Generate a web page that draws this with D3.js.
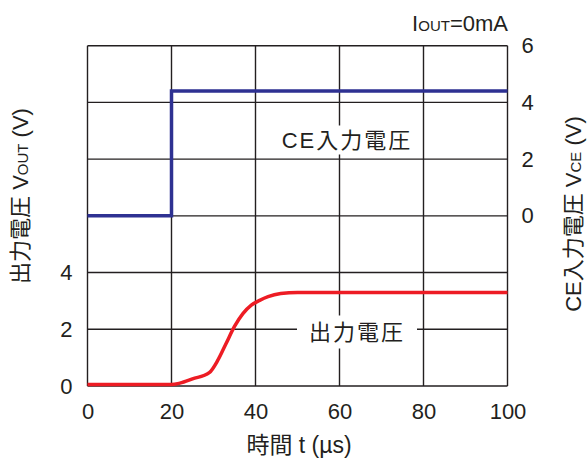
<!DOCTYPE html>
<html>
<head>
<meta charset="utf-8">
<script src="https://cdn.jsdelivr.net/npm/d3@7"></script>
<style>
  body { margin: 0; background: #fff; }
  text { font-family: "Liberation Sans", Arial, "Noto Sans CJK JP", sans-serif; fill: #231f20; }
</style>
</head>
<body>
<svg width="588" height="459"></svg>
<script>
// time axis (µs)
var xTicks = [0, 20, 40, 60, 80, 100];
var leftTicks = [0, 2, 4];
var rightTicks = [0, 2, 4, 6];

// CE input voltage (V), step at 20 µs
var ceTime = [0, 20, 20, 100];
var ceVolt = [0, 0, 4.4, 4.4];

// output voltage (V)
var outTime = [0, 20, 22, 25, 29, 31, 33, 35, 37, 39, 41, 43, 46, 50, 100];
var outVolt = [0.05, 0.05, 0.1, 0.25, 0.47, 0.9, 1.5, 2.1, 2.55, 2.85, 3.02, 3.15, 3.26, 3.3, 3.3];

var svg = d3.select('svg');
var plotLeft = 87.5, plotRight = 507.5, plotTop = 45.7, plotBottom = 386;

var x = d3.scaleLinear().domain([0, 100]).range([plotLeft, plotRight]);
var yLeft = d3.scaleLinear().domain([0, 12]).range([plotBottom, plotTop]);
var yRight = d3.scaleLinear().domain([-6, 6]).range([plotBottom, plotTop]);

var ink = '#231f20';

// grid
var grid = svg.append('g').attr('class', 'grid');
grid.selectAll('.vline')
    .data(xTicks)
    .enter()
    .append('line')
    .attr('x1', function(d) { return x(d); })
    .attr('x2', function(d) { return x(d); })
    .attr('y1', plotTop)
    .attr('y2', plotBottom)
    .attr('stroke', ink)
    .attr('stroke-width', 1.4);
grid.selectAll('.hline')
    .data(d3.range(-6, 7, 2))
    .enter()
    .append('line')
    .attr('x1', plotLeft)
    .attr('x2', plotRight)
    .attr('y1', function(d) { return yRight(d); })
    .attr('y2', function(d) { return yRight(d); })
    .attr('stroke', ink)
    .attr('stroke-width', 1.4);

// axes labels via d3 axes (no lines)
var fs = 22;
var xAxis = svg.append('g')
    .attr('transform', 'translate(0,' + plotBottom + ')')
    .call(d3.axisBottom(x).tickValues(xTicks).tickSize(0).tickPadding(17));
var lAxis = svg.append('g')
    .attr('transform', 'translate(' + plotLeft + ',0)')
    .call(d3.axisLeft(yLeft).tickValues(leftTicks).tickSize(0).tickPadding(15));
var rAxis = svg.append('g')
    .attr('transform', 'translate(' + plotRight + ',0)')
    .call(d3.axisRight(yRight).tickValues(rightTicks).tickSize(0).tickPadding(14));
[xAxis, lAxis, rAxis].forEach(function(a) {
    a.select('.domain').remove();
    a.selectAll('text')
        .attr('font-family', '"Liberation Sans", Arial, sans-serif')
        .attr('font-size', fs)
        .attr('fill', ink);
});

// lines
var lineCE = d3.line()
    .x(function(d) { return x(d[0]); })
    .y(function(d) { return yRight(d[1]); });
svg.append('path')
    .datum(d3.zip(ceTime, ceVolt))
    .attr('d', lineCE)
    .attr('fill', 'none')
    .attr('stroke', '#2e3192')
    .attr('stroke-width', 3.5);

var lineOut = d3.line()
    .x(function(d) { return x(d[0]); })
    .y(function(d) { return yLeft(d[1]); })
    .curve(d3.curveMonotoneX);
svg.append('path')
    .datum(d3.zip(outTime, outVolt))
    .attr('d', lineOut)
    .attr('fill', 'none')
    .attr('stroke', '#ed1c24')
    .attr('stroke-width', 3.5);

// in-plot labels with white backing
function boxLabel(txt, cx, cy, padX, padY) {
    var g = svg.append('g');
    var rect = g.append('rect').attr('fill', '#fff');
    var t = g.append('text')
        .attr('x', cx)
        .attr('y', cy)
        .attr('text-anchor', 'middle')
        .attr('dominant-baseline', 'central')
        .attr('font-size', fs)
        .style('letter-spacing', '2px')
        .text(txt);
    var b = t.node().getBBox();
    rect.attr('x', b.x - padX).attr('y', b.y - padY)
        .attr('width', b.width + 2 * padX).attr('height', b.height + 2 * padY);
}
boxLabel('CE入力電圧', 347, 140, 4, 2);
boxLabel('出力電圧', 357, 332, 12, 4);

// top note
var note = svg.append('text')
    .attr('x', 508)
    .attr('y', 31)
    .attr('text-anchor', 'end')
    .attr('font-size', 22);
note.append('tspan').text('I');
note.append('tspan').attr('font-size', 15).text('OUT');
note.append('tspan').text('=0mA');

// x title
svg.append('text')
    .attr('x', 299)
    .attr('y', 453)
    .attr('text-anchor', 'middle')
    .attr('font-size', 23)
    .text('時間 t (µs)');

// left title
var lt = svg.append('text')
    .attr('transform', 'translate(28,196) rotate(-90)')
    .attr('text-anchor', 'middle')
    .attr('font-size', fs);
lt.append('tspan').text('出力電圧 V');
lt.append('tspan').attr('font-size', 15).text('OUT');
lt.append('tspan').text(' (V)');

// right title
var rt = svg.append('text')
    .attr('transform', 'translate(581,214) rotate(-90)')
    .attr('text-anchor', 'middle')
    .attr('font-size', fs);
rt.append('tspan').text('CE入力電圧 V');
rt.append('tspan').attr('font-size', 15).text('CE');
rt.append('tspan').text(' (V)');
</script>
</body>
</html>
